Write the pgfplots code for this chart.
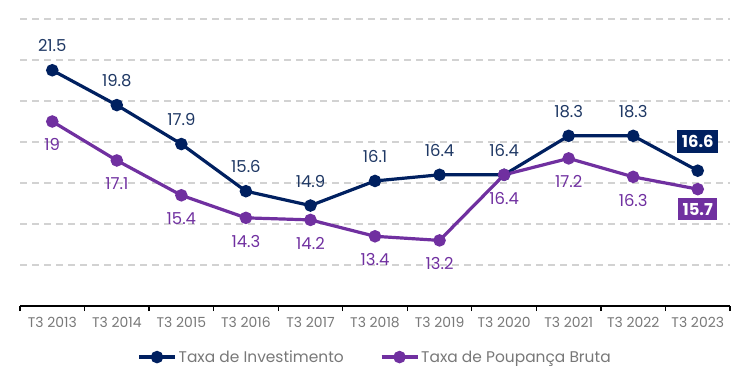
\documentclass[border=0pt]{standalone}
\usepackage{pgfplots}
\pgfplotsset{compat=1.18}
\usepackage{fontspec}
\setmainfont{Poppins}
\definecolor{navy}{RGB}{0,32,96}
\definecolor{navylbl}{RGB}{31,56,100}
\definecolor{purp}{RGB}{112,48,160}
\definecolor{tickgray}{RGB}{120,120,120}
\definecolor{gridgray}{RGB}{210,210,210}
\begin{document}
\begin{tikzpicture}[x=1bp,y=1bp]
\path[use as bounding box] (0,0) rectangle (750,386);
\begin{axis}[
  at={(20bp,80bp)}, anchor=south west,
  scale only axis, width=710bp, height=287bp,
  xmin=0.5, xmax=11.5, ymin=10, ymax=24,
  xtick={0.5,1.5,...,11.5},
  x tick label as interval,
  xticklabels={T3 2013,T3 2014,T3 2015,T3 2016,T3 2017,T3 2018,T3 2019,T3 2020,T3 2021,T3 2022,T3 2023},
  ytick={12,14,...,24}, yticklabels={},
  ymajorgrids,
  grid style={gridgray, line width=1.3bp, dash pattern=on 7bp off 5bp},
  axis x line*=bottom, axis y line*=left,
  y axis line style={draw=none}, ytick style={draw=none},
  x axis line style={-, black, line width=1.3bp},
  xtick style={black, line width=1.3bp},
  tick align=outside, major tick length=5bp,
  x tick label style={font=\fontsize{14}{16}\selectfont, text=tickgray, yshift=-3bp},
  clip=false,
  legend style={at={(0.5,-0.178)}, anchor=center, draw=none, fill=none,
    legend columns=2, font=\fontsize{15.5}{17}\selectfont, text=tickgray,
    /tikz/every even column/.append style={column sep=34bp},
    inner sep=0pt},
  legend image code/.code={\draw[line width=3.4bp, mark repeat=2,mark phase=2, mark size=4.5bp] plot coordinates {(0bp,0bp) (18bp,0bp) (36bp,0bp)};},
]
\addplot[navy, line width=3.2bp, mark=*, mark size=4.6bp] coordinates {
(1,21.5) (2,19.8) (3,17.9) (4,15.6) (5,14.9) (6,16.1) (7,16.4) (8,16.4) (9,18.3) (10,18.3) (11,16.6)};
\addlegendentry{Taxa de Investimento}
\addplot[purp, line width=3.2bp, mark=*, mark size=4.6bp] coordinates {
(1,19) (2,17.1) (3,15.4) (4,14.3) (5,14.2) (6,13.4) (7,13.2) (8,16.4) (9,17.2) (10,16.3) (11,15.7)};
\addlegendentry{Taxa de Poupança Bruta}
% labels
\addplot[forget plot, draw=none, mark=none, nodes near coords, point meta=explicit symbolic,
  nodes near coords style={anchor=south, inner sep=0pt, yshift=18bp, text=navylbl, font=\fontsize{16.5}{18}\selectfont}]
  coordinates {(1,21.5) [21.5] (2,19.8) [19.8] (3,17.9) [17.9] (4,15.6) [15.6] (5,14.9) [14.9] (6,16.1) [16.1] (7,16.4) [16.4] (8,16.4) [16.4] (9,18.3) [18.3] (10,18.3) [18.3]};
\addplot[forget plot, draw=none, mark=none, nodes near coords, point meta=explicit symbolic,
  nodes near coords style={anchor=north, inner sep=0pt, yshift=-17bp, text=purp, font=\fontsize{16.5}{18}\selectfont}]
  coordinates {(1,19) [19] (2,17.1) [17.1] (3,15.4) [15.4] (4,14.3) [14.3] (5,14.2) [14.2] (6,13.4) [13.4] (7,13.2) [13.2] (8,16.4) [16.4] (9,17.2) [17.2] (10,16.3) [16.3]};
\addplot[forget plot, draw=none, mark=none, nodes near coords, point meta=explicit symbolic,
  nodes near coords style={anchor=south, fill=navy, text=white, inner xsep=4.5bp, inner ysep=5bp, yshift=18bp, font=\fontsize{16.5}{18}\selectfont\bfseries}]
  coordinates {(11,16.6) [16.6]};
\addplot[forget plot, draw=none, mark=none, nodes near coords, point meta=explicit symbolic,
  nodes near coords style={anchor=north, fill=purp, text=white, inner xsep=4.5bp, inner ysep=5bp, yshift=-9bp, font=\fontsize{16.5}{18}\selectfont\bfseries}]
  coordinates {(11,15.7) [15.7]};
\end{axis}
\end{tikzpicture}
\end{document}
